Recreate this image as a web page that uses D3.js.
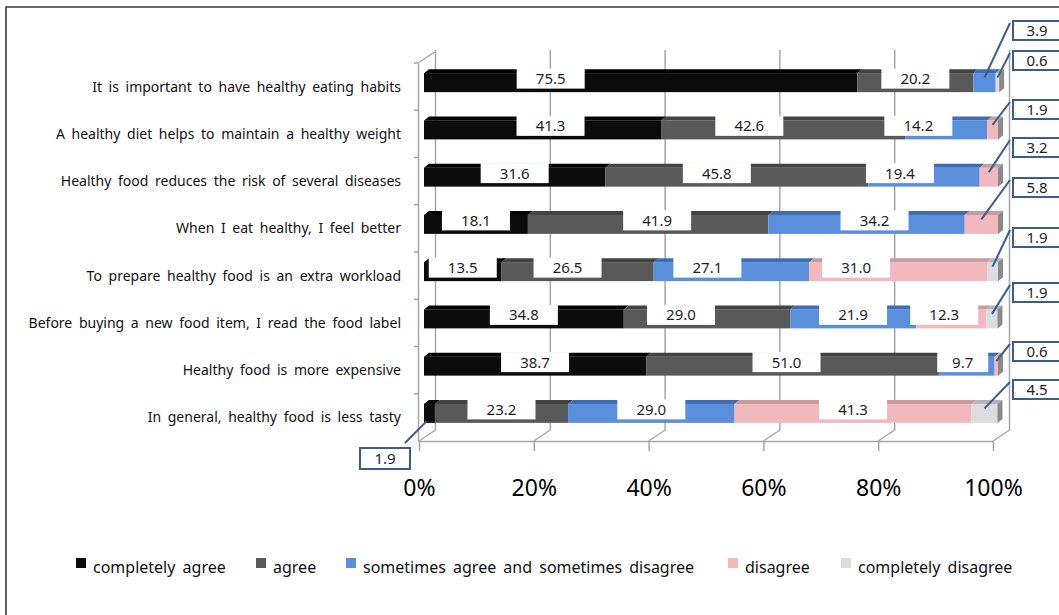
<!DOCTYPE html>
<html>
<head>
<meta charset="utf-8">
<script src="https://cdn.jsdelivr.net/npm/d3@7"></script>
<style>
  body { margin: 0; background: #fff; }
  svg { display: block; }
  text { font-family: "Noto Sans", "Open Sans", sans-serif; }
</style>
</head>
<body>
<svg id="chart" width="1059" height="615"></svg>
<script>
// ---- data -------------------------------------------------------------
const statements = [
  "It is important to have healthy eating habits",
  "A healthy diet helps to maintain a healthy weight",
  "Healthy food reduces the risk of several diseases",
  "When I eat healthy, I feel better",
  "To prepare healthy food is an extra workload",
  "Before buying a new food item, I read the food label",
  "Healthy food is more expensive",
  "In general, healthy food is less tasty"
];
const seriesNames = [
  "completely agree",
  "agree",
  "sometimes agree and sometimes disagree",
  "disagree",
  "completely disagree"
];
const completelyAgree    = [75.5, 41.3, 31.6, 18.1, 13.5, 34.8, 38.7, 1.9];
const agree              = [20.2, 42.6, 45.8, 41.9, 26.5, 29.0, 51.0, 23.2];
const sometimes          = [3.9, 14.2, 19.4, 34.2, 27.1, 21.9, 9.7, 29.0];
const disagree           = [0.0, 1.9, 3.2, 5.8, 31.0, 12.3, 0.6, 41.3];
const completelyDisagree = [0.6, 0.0, 0.0, 0.0, 1.9, 1.9, 0.0, 4.5];
const tickValues = [0, 20, 40, 60, 80, 100];

// ---- layout -----------------------------------------------------------
const W = 1059, H = 615;
const frontLeft = 419, frontRight = 993;     // front plane of the plot box
const axisTop = 63, axisBottom = 441;        // category axis extent
const wallDx = 16.5, wallDy = -11;           // depth of the plot box
const barOff = 5;                            // bar front face offset into the box
const barDx = 5, barDy = -4;                 // bar depth
const faceColors = ["#0c0c0c", "#595959", "#5a8fdb", "#f1b9bd", "#dcdce0"];
const topColors  = ["#000000", "#434343", "#3f6cb4", "#c99a9e", "#b4b4b8"];
const endColor   = "#8a8a8c";
const calloutStroke = "#3b5d8d";
const gridColor = "#a6a6a6";

// callout boxes (top edge of each box) for the narrow segments
const calloutTops = {
  "0-2": 21, "0-4": 51, "1-3": 100, "2-3": 138, "3-3": 178,
  "4-4": 228, "5-4": 283, "6-3": 342, "7-4": 380
};
// callout placed below-left of the axis
const lowerCallout = { key: "7-0", x: 360, y: 448 };

// horizontal nudges of in-bar value labels (px)
const labelNudge = {
  "0-0": -90, "1-0": 8, "1-1": -34, "1-2": -28,
  "2-1": -20, "2-2": -24, "3-1": 9, "3-2": 8,
  "4-1": -10, "4-2": -24, "4-3": -42,
  "5-1": -26, "5-3": -7, "6-1": -6, "6-2": -4
};

// ---- scales -----------------------------------------------------------
const svg = d3.select("#chart");
const xFront = d3.scaleLinear().domain([0, 100]).range([frontLeft, frontRight]);
const xBar = d3.scaleLinear().domain([0, 100]).range([frontLeft + barOff, frontRight + barOff]);
const y = d3.scaleBand().domain(statements).range([axisTop, axisBottom]).padding(0);
const bw = y.bandwidth();
const center = s => y(s) + bw / 2;

const rows = statements.map((s, i) => ({
  statement: s,
  "completely agree": completelyAgree[i],
  "agree": agree[i],
  "sometimes agree and sometimes disagree": sometimes[i],
  "disagree": disagree[i],
  "completely disagree": completelyDisagree[i]
}));
const stacked = d3.stack().keys(seriesNames)(rows);

// ---- outer frame ------------------------------------------------------
svg.append("path")
  .attr("d", `M6,${H} L6,7 L${W},7`)
  .attr("fill", "none").attr("stroke", "#3a3a3a").attr("stroke-width", 1.6);

// ---- plot box: walls and gridlines --------------------------------------
const grid = svg.append("g").attr("stroke", gridColor).attr("stroke-width", 1.5).attr("fill", "none");
tickValues.forEach(t => {
  const xf = xFront(t);
  grid.append("line")
    .attr("x1", xf + wallDx).attr("x2", xf + wallDx)
    .attr("y1", axisTop + wallDy - 2).attr("y2", axisBottom + wallDy);
  grid.append("line")
    .attr("x1", xf).attr("y1", axisBottom)
    .attr("x2", xf + wallDx).attr("y2", axisBottom + wallDy);
});
// left wall
grid.append("line")
  .attr("x1", frontLeft - 1).attr("y1", axisTop)
  .attr("x2", frontLeft - 1 + wallDx).attr("y2", axisTop + wallDy);

// ---- x axis (front floor edge) ----------------------------------------
const xAxis = d3.axisBottom(xFront)
  .tickValues(tickValues)
  .tickFormat(d => d + "%")
  .tickSize(10)
  .tickPadding(29)
  .tickSizeOuter(0);
const gx = svg.append("g").attr("transform", `translate(0,${axisBottom})`).call(xAxis);
gx.select(".domain").attr("stroke", gridColor).attr("stroke-width", 1.5);
gx.selectAll(".tick line").attr("stroke", gridColor).attr("stroke-width", 1.5);
gx.selectAll(".tick text")
  .attr("fill", "#000").attr("font-size", 23)
  .style("font-family", '"Noto Sans", sans-serif');

// ---- y axis (category labels) -----------------------------------------
const yAxis = d3.axisLeft(y).tickSize(0).tickPadding(17).tickSizeOuter(0);
const gy = svg.append("g").attr("transform", `translate(${frontLeft - 1},0)`).call(yAxis);
gy.select(".domain").attr("stroke", gridColor).attr("stroke-width", 1.5);
gy.selectAll(".tick text")
  .attr("fill", "#111").attr("font-size", 14)
  .attr("dy", "0.35em")
  .style("word-spacing", "3px")
  .style("font-family", '"Noto Sans", sans-serif');
// boundary ticks between categories
const boundaries = d3.range(statements.length).map(i => axisTop + bw * i);
svg.append("g").selectAll("line")
  .data(boundaries)
  .join("line")
  .attr("x1", frontLeft - 5).attr("x2", frontLeft - 1)
  .attr("y1", d => d).attr("y2", d => d)
  .attr("stroke", gridColor).attr("stroke-width", 1.5);

// ---- bars --------------------------------------------------------------
const barTop = s => center(s) - 13.5;
const barBottom = s => center(s) + 5.5;
const bars = svg.append("g");
stacked.forEach((series, k) => {
  series.forEach((d, i) => {
    const v = d[1] - d[0];
    if (v <= 0) return;
    const s = statements[i];
    const x0 = xBar(d[0]), x1 = xBar(d[1]);
    const y0 = barTop(s), y1 = barBottom(s);
    bars.append("path")
      .attr("d", `M${x0},${y0} L${x0 + barDx},${y0 + barDy} L${x1 + barDx},${y0 + barDy} L${x1},${y0} Z`)
      .attr("fill", topColors[k]);
    bars.append("rect")
      .attr("x", x0).attr("y", y0)
      .attr("width", x1 - x0).attr("height", y1 - y0)
      .attr("fill", faceColors[k]);
  });
});
// right end faces
statements.forEach((s, i) => {
  const end = xBar(d3.max(stacked, ser => ser[i][1]));
  const y0 = barTop(s), y1 = barBottom(s);
  bars.append("path")
    .attr("d", `M${end},${y0} L${end + barDx},${y0 + barDy} L${end + barDx},${y1 + barDy} L${end},${y1} Z`)
    .attr("fill", endColor);
});

// ---- value labels -------------------------------------------------------
const labels = svg.append("g");
const callouts = svg.append("g");
stacked.forEach((series, k) => {
  series.forEach((d, i) => {
    const v = +(d[1] - d[0]).toFixed(1);
    if (v <= 0) return;
    const s = statements[i];
    const key = `${i}-${k}`;
    const txt = v.toFixed(1);
    const mid = xBar((d[0] + d[1]) / 2);
    if (v >= 8) {
      const cx = mid + (labelNudge[key] || 0);
      const bwid = 17 * txt.length, bh = 20;
      const by = center(s) - 18;
      labels.append("rect")
        .attr("x", cx - bwid / 2).attr("y", by)
        .attr("width", bwid).attr("height", bh)
        .attr("fill", "#fff");
      labels.append("text")
        .attr("x", cx).attr("y", by + bh / 2)
        .attr("dy", "0.36em").attr("text-anchor", "middle")
        .attr("font-size", 15).attr("fill", "#1e1e2a")
        .text(txt);
    } else {
      const ax = mid, ay = center(s) - 9;
      const cw = 48, ch = 19;
      if (key === lowerCallout.key) {
        const bx = lowerCallout.x, by = lowerCallout.y;
        callouts.append("line")
          .attr("x1", bx + 45).attr("y1", by - 5).attr("x2", ax - 3).attr("y2", center(s) + 4)
          .attr("stroke", calloutStroke).attr("stroke-width", 2);
        callouts.append("rect")
          .attr("x", bx).attr("y", by).attr("width", 50).attr("height", 21)
          .attr("fill", "#fff").attr("stroke", calloutStroke).attr("stroke-width", 2);
        callouts.append("text")
          .attr("x", bx + 25).attr("y", by + 10.5)
          .attr("dy", "0.36em").attr("text-anchor", "middle")
          .attr("font-size", 15).attr("fill", "#1e1e2a").text(txt);
        return;
      }
      const bx = 1013, by = calloutTops[key];
      callouts.append("line")
        .attr("x1", bx - 3).attr("y1", by + 2).attr("x2", ax).attr("y2", ay)
        .attr("stroke", calloutStroke).attr("stroke-width", 2);
      callouts.append("rect")
        .attr("x", bx).attr("y", by).attr("width", cw).attr("height", ch)
        .attr("fill", "#fff").attr("stroke", calloutStroke).attr("stroke-width", 2);
      callouts.append("text")
        .attr("x", bx + 24).attr("y", by + ch / 2)
        .attr("dy", "0.36em").attr("text-anchor", "middle")
        .attr("font-size", 15).attr("fill", "#1e1e2a").text(txt);
    }
  });
});

// ---- legend -------------------------------------------------------------
const legendX = [76, 256, 346, 728, 841];
const legend = svg.append("g");
seriesNames.forEach((name, k) => {
  legend.append("rect")
    .attr("x", legendX[k]).attr("y", 558)
    .attr("width", 10).attr("height", 10)
    .attr("fill", faceColors[k]);
  legend.append("text")
    .attr("x", legendX[k] + 17).attr("y", 573)
    .attr("font-size", 16).attr("fill", "#111")
    .style("word-spacing", "3px")
    .text(name);
});
</script>
</body>
</html>
